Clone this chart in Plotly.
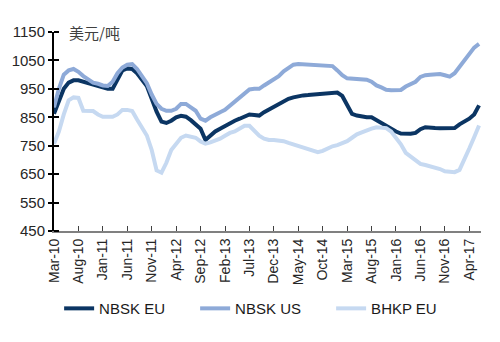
import plotly.graph_objects as go

months = ["Jan","Feb","Mar","Apr","May","Jun","Jul","Aug","Sep","Oct","Nov","Dec"]
# monthly categories Mar-10 .. Jun-17
dates = []
y, mi = 2010, 2
while not (y == 2017 and mi == 6):
    dates.append(f"{months[mi]}-{str(y)[2:]}")
    mi += 1
    if mi == 12:
        mi = 0
        y += 1

nbsk_eu = [862,910,950,972,980,980,975,970,962,958,952,950,950,985,1015,1022,1020,1005,985,960,
           915,870,835,830,838,850,855,852,840,825,810,770,785,800,810,820,830,838,845,852,
           860,858,856,868,878,886,896,905,915,920,924,927,928,930,932,934,935,936,937,925,
           895,862,856,852,850,850,840,830,818,808,800,793,792,792,795,808,815,812,812,811,
           811,811,812,825,835,845,860,892]
nbsk_us = [885,950,1000,1015,1020,1010,995,982,972,968,962,960,975,1005,1025,1035,1037,1020,995,970,
           930,897,880,873,873,880,897,897,885,873,845,838,850,860,868,876,890,905,918,932,
           948,950,950,962,972,982,995,1012,1025,1035,1037,1036,1035,1033,1032,1032,1031,1030,1015,998,
           987,985,984,983,982,975,962,955,947,945,945,946,958,965,975,992,998,1000,1002,1002,
           998,993,1005,1028,1050,1075,1095,1108]
bhkp_eu = [757,800,860,910,920,918,873,873,872,860,852,852,852,860,876,876,872,842,815,786,
           735,663,655,690,735,757,778,786,782,778,765,757,762,767,775,785,795,800,810,820,
           820,800,785,775,770,770,769,766,760,755,748,744,738,732,727,732,740,748,752,760,
           766,778,790,797,805,810,815,815,812,800,780,755,725,712,698,686,682,678,675,668,
           660,657,657,665,700,740,780,821]

series_names = ["NBSK EU", "NBSK US", "BHKP EU"]
colors = ["#0b3563", "#8eaad8", "#c6d9f1"]
tick_labels = dates[::5]

FONT = "Arial, 'Liberation Sans', sans-serif"
fig = go.Figure()
for name, vals, c in zip(series_names, [nbsk_eu, nbsk_us, bhkp_eu], colors):
    fig.add_trace(go.Scatter(x=dates, y=vals, mode="lines", name=name,
                             line=dict(color=c, width=4)))

fig.update_layout(
    width=500, height=342,
    margin=dict(l=54, r=19, t=31.5, b=111),
    paper_bgcolor="white", plot_bgcolor="white",
    font=dict(family=FONT, color="#262626"),
    showlegend=True,
    legend=dict(orientation="h", x=0.012, xanchor="left", y=-0.39, yanchor="middle",
                font=dict(size=15, color="#1a1a1a"), entrywidth=91, tracegroupgap=0,
                itemwidth=30),
    xaxis=dict(type="category", range=[0, 87.4], tickvals=tick_labels, ticktext=tick_labels,
               tickangle=-90, tickfont=dict(size=14, color="#262626"),
               showline=True, linecolor="#808080", linewidth=2,
               ticks="inside", ticklen=5, tickcolor="#404040", showgrid=False, zeroline=False),
    yaxis=dict(range=[450, 1150], tickvals=[450,550,650,750,850,950,1050,1150],
               tickfont=dict(size=15, color="#262626"),
               showline=True, linecolor="#000000", linewidth=2,
               ticks="outside", ticklen=4, tickcolor="#000000", tickwidth=2,
               minor=dict(ticks="inside", ticklen=5, tick0=450, dtick=100, tickcolor="#000000", tickwidth=2),
               showgrid=False, zeroline=False),
    annotations=[dict(text="美元/吨", xref="paper", yref="paper", x=0.03, y=1.0,
                      xanchor="left", yanchor="middle", showarrow=False,
                      font=dict(size=15, color="#404040", family="'Noto Sans CJK SC', sans-serif"))],
)

fig.write_html("out.html")
